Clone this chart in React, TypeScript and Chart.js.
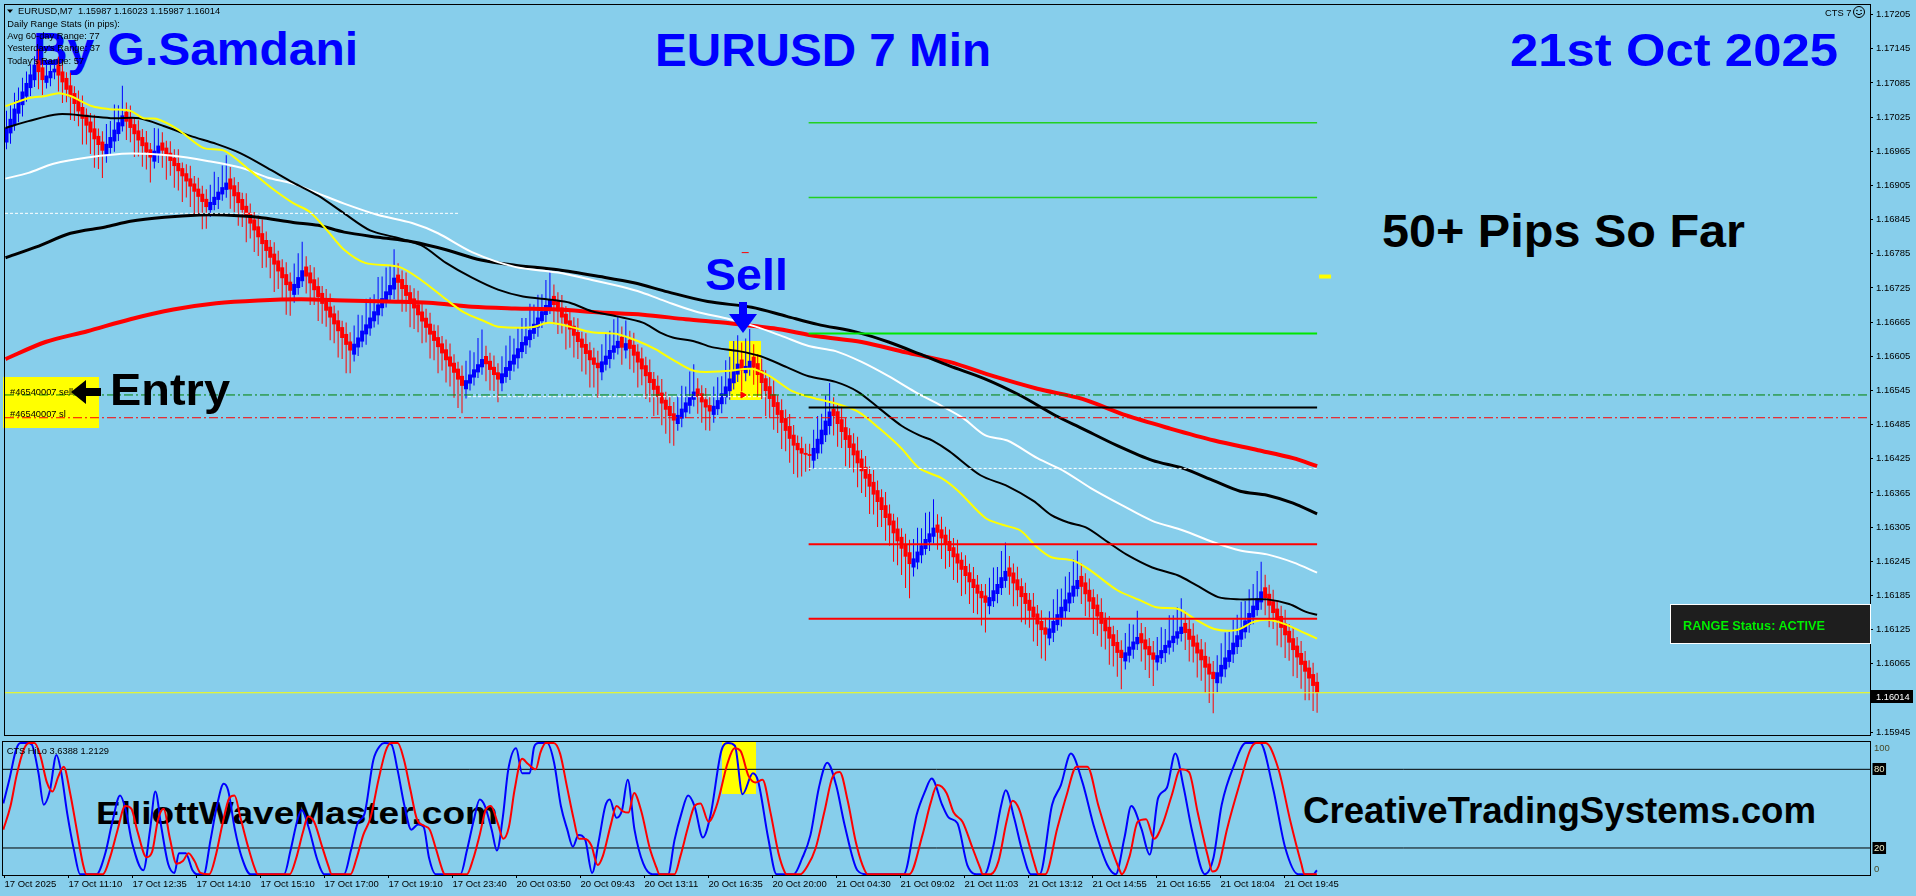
import React, { useEffect, useRef } from "react";
import { Chart, registerables } from "chart.js";

Chart.register(...registerables);

const FONT = "'Liberation Sans', Arial, Helvetica, sans-serif";
const BG = "#87CEEB";
const UP = "#0000FF";
const DOWN = "#FF0000";
const PT = 0.00001;
// bodies of consecutive range bars overlap in the reference drawing
const BODY_OVERLAP = 0.6;

// ---------- axes ----------
const priceTicks = [1.17205, 1.17145, 1.17085, 1.17025, 1.16965, 1.16905, 1.16845, 1.16785, 1.16725, 1.16665, 1.16605,
  1.16545, 1.16485, 1.16425, 1.16365, 1.16305, 1.16245, 1.16185, 1.16125, 1.16065, 1.16005, 1.15945];
const timeTickBars = [0, 16, 32, 48, 64, 80, 96, 112, 128, 144, 160, 176, 192, 208, 224, 240, 256, 272, 288, 304, 320];
const timeLabels = ["17 Oct 2025", "17 Oct 11:10", "17 Oct 12:35", "17 Oct 14:10", "17 Oct 15:10", "17 Oct 17:00",
  "17 Oct 19:10", "17 Oct 23:40", "20 Oct 03:50", "20 Oct 09:43", "20 Oct 13:11", "20 Oct 16:35", "20 Oct 20:00",
  "21 Oct 04:30", "21 Oct 09:02", "21 Oct 11:03", "21 Oct 13:12", "21 Oct 14:55", "21 Oct 16:55", "21 Oct 18:04", "21 Oct 19:45"];
const oscTickValues = [100, 80, 20, 0];
const oscLevels = [80, 20];

// ---------- range bars (close of every bar) ----------
const firstOpen = 1.1699;
const closes = [
  1.17006, 1.17022, 1.17040, 1.17055, 1.17070, 1.17085, 1.17100, 1.17117, 1.17104, 1.17090,
  1.17098, 1.17106, 1.17110, 1.17098, 1.17086, 1.17073, 1.17060, 1.17048, 1.17035, 1.17022,
  1.17010, 1.16998, 1.16986, 1.16976, 1.16966, 1.16978, 1.16990, 1.17003, 1.17016, 1.17028,
  1.17017, 1.17006, 1.16995, 1.16984, 1.16974, 1.16963, 1.16954, 1.16966, 1.16975, 1.16966,
  1.16957, 1.16948, 1.16939, 1.16930, 1.16921, 1.16912, 1.16903, 1.16894, 1.16885, 1.16876,
  1.16867, 1.16876, 1.16885, 1.16894, 1.16902, 1.16910, 1.16898, 1.16886, 1.16874, 1.16862,
  1.16850, 1.16838, 1.16826, 1.16814, 1.16802, 1.16790, 1.16778, 1.16766, 1.16754, 1.16742,
  1.16730, 1.16720, 1.16732, 1.16744, 1.16756, 1.16745, 1.16733, 1.16721, 1.16709, 1.16697,
  1.16685, 1.16673, 1.16661, 1.16649, 1.16637, 1.16625, 1.16615, 1.16627, 1.16638, 1.16650,
  1.16661, 1.16673, 1.16684, 1.16696, 1.16707, 1.16719, 1.16730, 1.16743, 1.16734, 1.16723,
  1.16711, 1.16700, 1.16689, 1.16677, 1.16666, 1.16655, 1.16643, 1.16632, 1.16621, 1.16610,
  1.16598, 1.16587, 1.16576, 1.16564, 1.16553, 1.16563, 1.16573, 1.16582, 1.16591, 1.16600,
  1.16591, 1.16581, 1.16572, 1.16564, 1.16575, 1.16586, 1.16597, 1.16608, 1.16619, 1.16630,
  1.16640, 1.16651, 1.16662, 1.16673, 1.16684, 1.16695, 1.16705, 1.16695, 1.16684, 1.16673,
  1.16662, 1.16652, 1.16641, 1.16630, 1.16620, 1.16609, 1.16598, 1.16590, 1.16584, 1.16596,
  1.16606, 1.16616, 1.16624, 1.16632, 1.16620, 1.16628, 1.16618, 1.16606, 1.16594, 1.16582,
  1.16570, 1.16558, 1.16546, 1.16534, 1.16522, 1.16511, 1.16500, 1.16492, 1.16502, 1.16513,
  1.16524, 1.16534, 1.16543, 1.16534, 1.16524, 1.16515, 1.16508, 1.16518, 1.16528, 1.16540,
  1.16552, 1.16566, 1.16580, 1.16592, 1.16580, 1.16588, 1.16597, 1.16585, 1.16572, 1.16558,
  1.16544, 1.16530, 1.16516, 1.16502, 1.16488, 1.16474, 1.16460, 1.16448, 1.16440, 1.16434,
  1.16432, 1.16430, 1.16444, 1.16460, 1.16476, 1.16492, 1.16508, 1.16500, 1.16486, 1.16472,
  1.16458, 1.16444, 1.16431, 1.16417, 1.16403, 1.16390, 1.16376, 1.16362, 1.16349, 1.16335,
  1.16321, 1.16308, 1.16294, 1.16280, 1.16267, 1.16253, 1.16240, 1.16250, 1.16262, 1.16273,
  1.16284, 1.16294, 1.16304, 1.16295, 1.16285, 1.16274, 1.16263, 1.16252, 1.16241, 1.16230,
  1.16219, 1.16208, 1.16198, 1.16188, 1.16180, 1.16172, 1.16182, 1.16194, 1.16205, 1.16217,
  1.16228, 1.16218, 1.16206, 1.16194, 1.16182, 1.16170, 1.16158, 1.16146, 1.16134, 1.16124,
  1.16116, 1.16127, 1.16140, 1.16152, 1.16165, 1.16178, 1.16190, 1.16202, 1.16212, 1.16200,
  1.16187, 1.16174, 1.16161, 1.16148, 1.16135, 1.16122, 1.16109, 1.16096, 1.16084, 1.16075,
  1.16085, 1.16095, 1.16104, 1.16112, 1.16101, 1.16090, 1.16080, 1.16072, 1.16080, 1.16089,
  1.16098, 1.16106, 1.16114, 1.16122, 1.16130, 1.16119, 1.16107, 1.16095, 1.16083, 1.16071,
  1.16058, 1.16046, 1.16038, 1.16050, 1.16063, 1.16076, 1.16089, 1.16102, 1.16115, 1.16128,
  1.16141, 1.16154, 1.16167, 1.16180, 1.16192, 1.16180, 1.16167, 1.16154, 1.16141, 1.16128,
  1.16115, 1.16102, 1.16089, 1.16076, 1.16063, 1.16051, 1.16039, 1.16026, 1.16014,
];
// wick lengths above / below the body, in points
const wickUp = [
  30, 25, 28, 22, 24, 20, 18, 15, 20, 15, 20, 18, 15,
  14, 18, 10, 22, 12, 16, 20, 11, 15, 24, 13, 18,
  35, 28, 44, 30, 52,
  16, 22, 12, 18, 14, 20, 11,
  40, 30,
  18, 12, 20, 15, 24, 10, 16, 22, 13, 19, 14, 17,
  30, 44, 26, 38, 48,
  20, 14, 18, 11, 22, 16, 13, 19, 24, 15, 12, 20, 17, 14, 21, 16,
  36, 42, 50,
  18, 13, 21, 15, 12, 19, 23, 14, 17, 11, 20, 16,
  32, 40, 27, 45, 35, 30, 48, 38, 42, 34, 50,
  20, 15, 22, 12, 18, 24, 14, 16, 19, 11, 21, 13, 17, 23, 15, 12, 18,
  34, 42, 30, 46, 52,
  18, 14, 20, 16,
  30, 38, 44, 28, 36, 42, 32, 46, 34, 40, 30, 44, 50,
  20, 16, 22, 13, 18, 15, 24, 12, 19, 14, 17, 21,
  30, 40, 34, 46, 44,
  18,
  40,
  16, 21, 13, 19, 15, 22, 12, 18, 24, 14, 17, 20,
  32, 40, 28, 44, 48,
  18, 14, 20, 16,
  34, 40, 30, 46, 38, 52, 50,
  30,
  48, 56,
  22, 16, 20, 14, 18, 24, 12, 19, 15, 21, 17, 13, 20,
  16, 18,
  32, 40, 28, 44, 50,
  20, 14, 22, 16, 12, 18, 24, 15, 19, 13, 21, 17, 14, 23, 16, 12, 20, 15, 18, 22,
  34, 42, 30, 46, 38, 50,
  18, 22, 14, 20, 16, 24, 13, 19, 15, 21, 17, 12, 20,
  34, 40, 30, 46, 50,
  20, 16, 22, 14, 18, 12, 24, 15, 19, 17,
  30, 38, 44, 32, 40, 36, 46, 52,
  22, 16, 20, 14, 18, 24, 12, 19, 15, 21, 17,
  34, 40, 30, 46,
  18, 22, 14, 20,
  32, 40, 28, 44, 36, 42, 50,
  20, 16, 22, 14, 18, 24, 12, 19,
  30, 38, 44, 32, 40, 36, 46, 34, 42, 38, 48, 52,
  22, 16, 20, 14, 18, 24, 12, 19, 15, 21, 17, 13, 20, 16,
];
const wickDown = [
  12, 18, 10, 15, 20, 9, 14, 12, 30, 26, 10, 14, 12,
  28, 36, 22, 40, 30, 26, 45, 33, 38, 50, 42, 48,
  14, 10, 18, 12, 9,
  32, 25, 40, 28, 36, 30, 44,
  12, 16,
  30, 42, 26, 38, 34, 45, 28, 36, 40, 32, 48, 38,
  12, 9, 16, 11, 14,
  34, 28, 40, 30, 45, 26, 38, 33, 42, 29, 36, 48, 31, 40, 52, 44,
  14, 12, 10,
  30, 38, 26, 42, 35, 28, 40, 33, 46, 37, 50, 40,
  12, 15, 10, 18, 13, 11, 16, 14, 9, 12, 17,
  32, 40, 28, 44, 36, 30, 38, 26, 42, 34, 46, 30, 39, 35, 44, 50, 48,
  16, 12, 14, 10, 13,
  30, 36, 28, 40,
  14, 10, 16, 12, 18, 11, 15, 13, 9, 16, 12, 14, 10,
  34, 40, 28, 45, 32, 38, 30, 42, 36, 48, 40, 52,
  14, 10, 16, 12, 11,
  30,
  14,
  36, 30, 44, 28, 40, 34, 46, 32, 38, 42, 48, 44,
  12, 15, 10, 14, 12,
  30, 36, 40, 34,
  14, 10, 16, 12, 15, 11, 13,
  36,
  14, 12,
  30, 38, 28, 44, 34, 40, 32, 46, 36, 42, 50, 48, 40,
  30, 26,
  14, 10, 16, 12, 15,
  34, 40, 28, 46, 36, 30, 42, 38, 32, 48, 35, 44, 30, 40, 36, 50, 42, 46, 55, 60,
  16, 12, 14, 10, 15, 12,
  30, 36, 42, 28, 40, 34, 46, 32, 38, 44, 36, 48, 52,
  14, 10, 16, 12, 12,
  32, 40, 28, 44, 36, 30, 42, 38, 50, 46,
  12, 16, 10, 14, 12, 15, 11, 13,
  30, 38, 28, 44, 34, 40, 32, 46, 36, 42, 55,
  14, 12, 16, 10,
  32, 36, 40, 46,
  14, 10, 16, 12, 15, 11, 13,
  30, 38, 28, 42, 36, 44, 50, 60,
  16, 12, 14, 10, 15, 12, 13, 11, 14, 12, 10, 13,
  30, 38, 28, 44, 34, 40, 32, 46, 36, 42, 50, 38, 44, 35,
];

// ---------- moving averages [bar, price] ----------
const maYellow = [[-0.25, 1.17044], [5.5, 1.17058], [9.75, 1.17062], [13, 1.17067], [16, 1.17062], [21.5, 1.17044], [25.75, 1.17039], [31, 1.17036], [34.25, 1.17023], [37.5, 1.17022], [42.75, 1.17004], [49.25, 1.16971], [54.5, 1.16966], [61, 1.16931], [66.25, 1.16901], [71.75, 1.16874], [76, 1.16858], [80.25, 1.16826], [84.5, 1.16792], [89.75, 1.16769], [98.25, 1.16762], [103.75, 1.16739], [110, 1.16705], [114.5, 1.16682], [119.75, 1.16666], [123, 1.16657], [131.5, 1.16656], [135.75, 1.16664], [141, 1.16657], [146.5, 1.16647], [152.75, 1.16644], [158.25, 1.16631], [162.5, 1.16617], [166.5, 1.16600], [172.25, 1.16579], [180, 1.16579], [186.5, 1.16583], [191, 1.16570], [196.5, 1.16544], [200.75, 1.16534], [207.5, 1.16522], [213, 1.16508], [218.5, 1.16478], [224, 1.16443], [228.5, 1.16408], [234, 1.16391], [238.25, 1.16368], [245, 1.16321], [249.25, 1.16309], [253.75, 1.16299], [258, 1.16269], [261.5, 1.16252], [267, 1.16246], [271.25, 1.16229], [278, 1.16194], [283.5, 1.16177], [287.75, 1.16164], [293.25, 1.16161], [297.75, 1.16142], [302.25, 1.16126], [307.75, 1.16124], [312, 1.16138], [315.5, 1.16142], [319.75, 1.16135], [324.25, 1.16121], [328, 1.16109]];
const maWhite = [[-0.25, 1.16917], [5.5, 1.16927], [11.75, 1.16943], [20.25, 1.16954], [31, 1.16961], [41.75, 1.16957], [50.25, 1.16948], [58.75, 1.16936], [65.25, 1.16919], [71.75, 1.16908], [78, 1.16891], [84.5, 1.16873], [93, 1.16853], [101.5, 1.16839], [108, 1.16821], [116.5, 1.16788], [127.25, 1.16762], [138, 1.16752], [146.5, 1.16739], [154, 1.16727], [159, 1.16717], [165.5, 1.16700], [172.25, 1.16684], [181, 1.16670], [187.5, 1.16657], [194.25, 1.16640], [200.75, 1.16623], [207.5, 1.16614], [214, 1.16595], [220.75, 1.16570], [227.25, 1.16543], [234, 1.16518], [239.5, 1.16496], [245, 1.16466], [250.5, 1.16457], [258, 1.16426], [264.75, 1.16403], [271.25, 1.16374], [279, 1.16344], [286.75, 1.16316], [294.5, 1.16299], [302.25, 1.16278], [308.75, 1.16264], [315.5, 1.16257], [322, 1.16243], [328, 1.16225]];
const maBlackThin = [[-0.25, 1.17006], [5.5, 1.17018], [13, 1.17030], [20.25, 1.17027], [26.75, 1.17023], [33.25, 1.17023], [39.5, 1.17009], [46, 1.16992], [52.5, 1.16978], [58.75, 1.16961], [65.25, 1.16936], [71.75, 1.16910], [78, 1.16887], [84.5, 1.16856], [91, 1.16826], [97.25, 1.16814], [103.75, 1.16800], [110, 1.16769], [116.5, 1.16743], [123, 1.16722], [129.25, 1.16710], [136.75, 1.16704], [141, 1.16699], [146.5, 1.16684], [152.75, 1.16675], [159.25, 1.16664], [163.5, 1.16647], [166.75, 1.16638], [172.25, 1.16631], [176.5, 1.16621], [183.25, 1.16614], [188.75, 1.16605], [195.25, 1.16586], [200.75, 1.16570], [207.5, 1.16560], [213, 1.16543], [218.5, 1.16513], [224, 1.16483], [228.5, 1.16466], [231.75, 1.16457], [236, 1.16438], [243.75, 1.16396], [250.5, 1.16377], [257, 1.16351], [261.5, 1.16326], [265.75, 1.16313], [270.25, 1.16304], [275.75, 1.16278], [280.25, 1.16257], [286.75, 1.16234], [293.25, 1.16220], [297.75, 1.16203], [303.25, 1.16182], [308.75, 1.16178], [315.5, 1.16178], [321, 1.16170], [325.25, 1.16156], [328, 1.16151]];
const maBlackThick = [[-0.25, 1.16778], [7.5, 1.16797], [16, 1.16821], [24.75, 1.16832], [31, 1.16842], [39.5, 1.16849], [48.25, 1.16853], [54.5, 1.16853], [63, 1.16849], [71.75, 1.16840], [78, 1.16835], [84.5, 1.16823], [93, 1.16814], [101.5, 1.16806], [110, 1.16792], [118.75, 1.16774], [127.25, 1.16765], [138, 1.16757], [148.5, 1.16745], [157, 1.16734], [165.5, 1.16718], [175.5, 1.16701], [186.5, 1.16691], [195.25, 1.16675], [203, 1.16661], [213, 1.16647], [220.75, 1.16630], [228.5, 1.16609], [236, 1.16588], [245, 1.16565], [253.75, 1.16536], [262.5, 1.16501], [269.25, 1.16478], [278, 1.16448], [286.75, 1.16422], [294.5, 1.16408], [302.25, 1.16386], [308.75, 1.16368], [315.5, 1.16361], [322, 1.16347], [328, 1.16328]];
const maRed = [[-0.25, 1.16600], [9.75, 1.16630], [20.25, 1.16649], [31, 1.16670], [41.75, 1.16687], [52.5, 1.16698], [63, 1.16703], [73.75, 1.16705], [84.5, 1.16703], [95.25, 1.16701], [105.75, 1.16699], [116.5, 1.16692], [127.25, 1.16689], [138, 1.16687], [148.5, 1.16682], [159.25, 1.16678], [170, 1.16670], [181, 1.16663], [192, 1.16654], [203, 1.16640], [214, 1.16630], [225, 1.16612], [236, 1.16595], [247, 1.16570], [258, 1.16548], [269.25, 1.16530], [280.25, 1.16501], [291.25, 1.16478], [302.25, 1.16457], [313.25, 1.16440], [322, 1.16426], [328, 1.16412]];

// ---------- horizontal objects ----------
const levelBars = [200.75, 328];
const levelGreen = [1.17015, 1.16884, 1.16645];
const levelBlack = [1.16515];
const levelRed = [1.16275, 1.16144];
const entryPrice = 1.16537;
const slPrice = 1.16497;
const dottedLevels = [[1.16856, -0.375, 113], [1.16534, 115.5, 190], [1.16408, 200.75, 328]];
const currentPrice = 1.16014;
const sellZoneBars = [180.75, 188.75];
const sellZonePrices = [1.16527, 1.16631];
const sellMarker = [184.25, 1.16537];
const sellTick = [[184, 1.16787], [185.75, 1.16787]];
const rightMarker = [[328.5, 1.16745], [331.5, 1.16745]];

// ---------- oscillator [bar, value] ----------
const oscMain = [[-0.3, 54], [1.2, 72], [2.9, 95], [4, 100], [5.7, 100], [6.8, 99], [8.5, 77], [9.8, 53], [11.3, 63], [13, 91], [14.1, 79], [15.7, 46], [17.4, 18], [18.9, 0], [23, 0], [25.2, 16], [26.9, 39], [28.9, 60], [30.3, 49], [31.9, 24], [34.7, 3], [36.4, 34], [37.7, 63], [39.2, 36], [40.9, 8], [42.5, 1], [43.6, 16], [45.3, 16], [47, 3], [48.1, 0], [49.8, 0], [51.5, 26], [53.1, 52], [54.8, 69], [55.9, 64], [57.6, 34], [59.3, 13], [61.5, 0], [69.9, 0], [71.5, 18], [73.2, 41], [74.3, 49], [76, 36], [78.2, 11], [79.9, 0], [84.9, 0], [86.6, 18], [88.3, 39], [90, 46], [92.2, 87], [93.9, 98], [95, 100], [96.7, 99], [98.3, 79], [100, 52], [101.7, 34], [103.4, 38], [104.8, 36], [106.1, 13], [107.8, 0], [114, 0], [115.6, 18], [117.3, 41], [118.8, 57], [120.1, 52], [121.8, 34], [123.1, 18], [124.6, 44], [125.9, 79], [127.9, 96], [129.4, 77], [131.3, 77], [132.4, 97], [133.5, 100], [135.7, 100], [137.4, 85], [139.1, 52], [140.7, 34], [142.1, 21], [143.5, 30], [145.2, 26], [146.9, 1], [148.6, 26], [150.2, 52], [151.3, 57], [153, 43], [154.4, 49], [155.8, 72], [157.5, 34], [159.7, 8], [162, 0], [165.9, 0], [167.5, 26], [169.2, 46], [170.9, 60], [172.5, 52], [174.6, 28], [176.5, 45], [179.2, 94], [180.9, 100], [182.6, 98], [184.5, 61], [187.1, 77], [188.4, 71], [190.9, 28], [193, 0], [197.3, 0], [199.4, 12], [201.5, 30], [203.6, 66], [205.7, 85], [207.9, 68], [210, 38], [213.2, 3], [215.3, 0], [224.8, 0], [228, 45], [230.1, 63], [231.8, 73], [234.4, 53], [236.1, 43], [238.2, 39], [240.7, 7], [242.9, 0], [245, 0], [247.1, 20], [249.2, 53], [250.3, 64], [252.4, 43], [254.5, 17], [256.6, 0], [258.8, 0], [261.9, 53], [264.1, 68], [266.6, 92], [269.4, 71], [272.5, 35], [275.7, 7], [277.8, 0], [280, 28], [281.7, 52], [284.2, 35], [286.3, 15], [288.4, 58], [290.6, 66], [292.7, 92], [294.8, 66], [296.9, 33], [300.1, 0], [302.2, 12], [304.3, 53], [307.5, 84], [310.3, 100], [313.9, 100], [317.1, 66], [320.2, 20], [323.4, 0], [327.2, 0], [328.1, 3]];
const oscSignal = [[-0.3, 34], [1.5, 52], [3, 75], [4.8, 95], [6.2, 100], [7.5, 100], [9, 90], [10.6, 70], [12, 63], [13.4, 74], [14.8, 82], [16.4, 62], [18, 35], [19.6, 8], [20.5, 0], [24.6, 0], [26.5, 14], [28.2, 33], [30.2, 52], [31.7, 50], [33.3, 32], [35.5, 13], [36.9, 17], [38.4, 42], [39.8, 50], [41.3, 28], [43, 8], [44.6, 10], [46, 16], [47.5, 10], [49, 1], [51.2, 0], [52.8, 14], [54.4, 37], [56.2, 58], [57.5, 60], [59, 43], [60.8, 22], [62.5, 5], [63.3, 0], [71.3, 0], [72.9, 12], [74.6, 32], [75.9, 44], [77.4, 40], [79.4, 21], [81, 6], [81.8, 0], [86.5, 0], [88, 12], [89.7, 30], [91.5, 43], [93.5, 72], [95.3, 94], [96.6, 100], [98.3, 100], [99.8, 88], [101.5, 64], [103.1, 42], [104.9, 37], [106.3, 34], [107.8, 20], [109.5, 3], [110, 0], [115.6, 0], [117.1, 11], [118.8, 30], [120.3, 49], [121.6, 52], [123.3, 39], [124.7, 27], [126.1, 36], [127.5, 64], [129.4, 88], [130.9, 84], [132.8, 80], [134, 93], [135.3, 100], [137.3, 100], [138.9, 92], [140.6, 67], [142.3, 42], [143.6, 27], [145, 27], [146.7, 22], [148.3, 7], [149.6, 14], [151.6, 38], [153, 52], [154.6, 48], [156, 47], [157.4, 62], [159.2, 48], [161.3, 20], [163, 5], [163.7, 0], [167.5, 0], [169, 14], [170.8, 35], [172.5, 52], [174, 54], [176, 40], [178, 52], [180.8, 85], [182.5, 96], [184, 94], [186, 75], [187.8, 70], [189.5, 72], [191.5, 47], [193.5, 16], [195, 2], [195.5, 0], [199, 0], [200.7, 6], [202.8, 20], [205, 48], [207, 74], [208.8, 78], [210.8, 56], [212.8, 25], [214.5, 7], [215.8, 0], [226.2, 0], [229.5, 30], [231.5, 54], [233.2, 68], [235.5, 62], [237.3, 47], [239.5, 40], [242, 20], [244, 4], [244.5, 0], [246.5, 0], [248.5, 10], [250.5, 40], [252, 56], [253.6, 50], [255.5, 30], [257.5, 8], [258.5, 0], [260.2, 0], [263.2, 35], [265.5, 60], [268, 82], [270.7, 82], [273.5, 52], [276.6, 21], [278.8, 3], [279.3, 0], [281.3, 14], [283.3, 40], [285.4, 42], [287.4, 27], [289.5, 38], [291.8, 60], [294, 80], [296.1, 78], [298.3, 47], [300.8, 14], [302, 2], [303.5, 6], [305.6, 34], [308.7, 68], [311.6, 96], [313, 100], [315.3, 100], [318.5, 80], [321.5, 40], [324.2, 8], [325, 0], [328.1, 0]];
const oscZoneBars = [179.25, 187.75];
const oscZoneValues = [61, 101];

// ---------- scale ranges ----------
const X_MIN = -0.375;
const X_MAX = 466.375;
const Y_MIN = 1.159398;
const Y_MAX = 1.172219;
const OSC_MIN = -0.6;
const OSC_MAX = 100.84;

const pts = (arr: number[][]) => arr.map(([x, y]) => ({ x, y }));

const lineDs = (data: any[], color: string, width: number, order: number, extra: any = {}) => ({
  type: "line",
  data,
  borderColor: color,
  backgroundColor: color,
  borderWidth: width,
  pointRadius: 0,
  tension: 0.3,
  fill: false,
  order,
  ...extra,
});

const hLine = (x0: number, x1: number, y: number, color: string, width: number, dash: number[], order: number) =>
  lineDs([{ x: x0, y }, { x: x1, y }], color, width, order, { borderDash: dash, tension: 0 });

const framePlugin = {
  id: "frame",
  afterDraw(chart: any) {
    const { ctx, chartArea: a } = chart;
    ctx.save();
    ctx.strokeStyle = "#000";
    ctx.lineWidth = 1;
    ctx.strokeRect(a.left - 0.5, a.top - 0.5, a.right - a.left + 1, a.bottom - a.top + 1);
    ctx.restore();
  },
};

const zonePlugin = {
  id: "zone",
  beforeDatasetsDraw(chart: any, _args: any, opts: any) {
    if (!opts || !opts.bars) return;
    const { ctx, scales, chartArea: a } = chart;
    const x0 = scales.x.getPixelForValue(opts.bars[0]);
    const x1 = scales.x.getPixelForValue(opts.bars[1]);
    const y0 = Math.max(scales.y.getPixelForValue(opts.values[1]), a.top);
    const y1 = Math.min(scales.y.getPixelForValue(opts.values[0]), a.bottom);
    ctx.save();
    ctx.fillStyle = opts.color;
    ctx.fillRect(Math.round(x0), Math.round(y0), Math.round(x1 - x0), Math.round(y1 - y0));
    ctx.restore();
  },
};

const oscAxisPlugin = {
  id: "oscAxis",
  afterDraw(chart: any) {
    const { ctx, chartArea: a, scales } = chart;
    ctx.save();
    ctx.font = `9.5px ${FONT}`;
    ctx.textBaseline = "middle";
    ctx.textAlign = "left";
    oscTickValues.forEach((v) => {
      let py = scales.y.getPixelForValue(v);
      py = Math.min(Math.max(py, a.top + 6), a.bottom - 6);
      const label = String(v);
      const x = a.right + 4;
      if (oscLevels.includes(v)) {
        const w = ctx.measureText(label).width;
        ctx.fillStyle = "#000";
        ctx.fillRect(x - 1.5, Math.round(py) - 6, w + 3, 12);
        ctx.fillStyle = "#EDEDC8";
      } else {
        ctx.fillStyle = "#4a4a28";
      }
      ctx.fillText(label, x, py + 0.5);
    });
    ctx.restore();
  },
};

function mainConfig(): any {
  const prev = closes.map((c, i) => (i === 0 ? firstOpen : closes[i - 1]));
  const colors = closes.map((c, i) => (c >= prev[i] ? UP : DOWN));
  const bodies = closes.map((c, i) => ({ x: i, y: [prev[i] - (c - prev[i]) * BODY_OVERLAP, c] }));
  const wicks = closes.map((c, i) => {
    const lo = Math.min(bodies[i].y[0], c);
    const hi = Math.max(bodies[i].y[0], c);
    return { x: i, y: [lo - (wickDown[i] || 0) * PT, hi + (wickUp[i] || 0) * PT] };
  });
  const DASHDOT = [9, 3, 2, 3];
  const datasets: any[] = [
    { type: "bar", data: wicks, backgroundColor: colors, barThickness: 1, grouped: false, inflateAmount: 0, borderWidth: 0, order: 60 },
    { type: "bar", data: bodies, backgroundColor: colors, barThickness: 4, grouped: false, inflateAmount: 0, borderWidth: 0, minBarLength: 1, order: 55 },
    lineDs(pts(maRed), "#FF0000", 4, 40),
    lineDs(pts(maBlackThick), "#000000", 3, 39),
    lineDs(pts(maWhite), "#FFFFFF", 2, 38),
    lineDs(pts(maBlackThin), "#000000", 2, 37),
    lineDs(pts(maYellow), "#FFFF00", 2, 36),
    ...dottedLevels.map(([p, a, b]) => hLine(a, b, p, "#FFFFFF", 1, [3, 2], 30)),
    hLine(X_MIN, X_MAX, entryPrice, "#008000", 1, DASHDOT, 25),
    hLine(X_MIN, X_MAX, slPrice, "#FF0000", 1, DASHDOT, 25),
    ...levelGreen.map((p, k) => hLine(levelBars[0], levelBars[1], p, k < 2 ? "#22D022" : "#00E600", k < 2 ? 1.5 : 2, [], 20)),
    ...levelBlack.map((p) => hLine(levelBars[0], levelBars[1], p, "#000000", 2, [], 20)),
    ...levelRed.map((p) => hLine(levelBars[0], levelBars[1], p, "#FF0000", 2, [], 20)),
    hLine(X_MIN, X_MAX, currentPrice, "#FFFF00", 1, [], 15),
    lineDs(pts(sellTick), "#FF0000", 1, 10, { tension: 0 }),
    lineDs(pts(rightMarker), "#FFFF00", 4, 10, { tension: 0 }),
    {
      type: "line",
      data: [{ x: sellMarker[0], y: sellMarker[1] }],
      showLine: false,
      pointStyle: "triangle",
      rotation: 90,
      pointRadius: 3.5,
      pointBackgroundColor: "#FF0000",
      pointBorderColor: "#FF0000",
      order: 9,
    },
  ];
  return {
    type: "line",
    data: { datasets },
    options: {
      animation: false,
      responsive: false,
      maintainAspectRatio: false,
      devicePixelRatio: 1,
      events: [],
      layout: { padding: { left: 3, top: 3, right: 0, bottom: 1 } },
      plugins: {
        legend: { display: false },
        tooltip: { enabled: false },
        zone: { bars: sellZoneBars, values: sellZonePrices, color: "#FFFF00" },
      },
      scales: {
        x: { type: "linear", display: false, min: X_MIN, max: X_MAX, offset: false, bounds: "data" },
        y: {
          type: "linear",
          position: "right",
          min: Y_MIN,
          max: Y_MAX,
          bounds: "data",
          afterBuildTicks: (s: any) => {
            s.ticks = priceTicks.map((value) => ({ value }));
          },
          afterFit: (s: any) => {
            s.width = 46;
            s.paddingTop = 0;
            s.paddingBottom = 0;
          },
          grid: { drawOnChartArea: false, drawTicks: true, tickLength: 3, color: "#000", lineWidth: 1 },
          border: { display: false },
          ticks: {
            autoSkip: false,
            color: "#000",
            padding: 3,
            font: { family: FONT, size: 9.5 },
            callback: (v: any) => Number(v).toFixed(5),
          },
        },
      },
    },
    plugins: [zonePlugin, framePlugin],
  };
}

function oscConfig(): any {
  const datasets: any[] = [
    ...oscLevels.map((v) => hLine(X_MIN, X_MAX, v, "#000000", 1, [], 30)),
    lineDs(pts(oscMain), "#0000FF", 2, 20, { tension: 0, cubicInterpolationMode: "monotone" }),
    lineDs(pts(oscSignal), "#FF0000", 2, 10, { tension: 0, cubicInterpolationMode: "monotone" }),
  ];
  return {
    type: "line",
    data: { datasets },
    options: {
      animation: false,
      responsive: false,
      maintainAspectRatio: false,
      devicePixelRatio: 1,
      events: [],
      layout: { padding: { left: 3, top: 2, right: 0, bottom: 0 } },
      plugins: {
        legend: { display: false },
        tooltip: { enabled: false },
        zone: { bars: oscZoneBars, values: oscZoneValues, color: "#FFFF00" },
      },
      scales: {
        x: {
          type: "linear",
          position: "bottom",
          min: X_MIN,
          max: X_MAX,
          offset: false,
          bounds: "data",
          afterBuildTicks: (s: any) => {
            s.ticks = timeTickBars.map((value) => ({ value }));
          },
          afterFit: (s: any) => {
            s.height = 21;
            s.paddingLeft = 0;
            s.paddingRight = 0;
          },
          grid: { drawOnChartArea: false, drawTicks: true, tickLength: 3, color: "#000", lineWidth: 1 },
          border: { display: false },
          ticks: {
            autoSkip: false,
            maxRotation: 0,
            minRotation: 0,
            align: "start",
            padding: 1,
            color: "#000",
            font: { family: FONT, size: 9.5 },
            callback: (_v: any, i: number) => timeLabels[i],
          },
        },
        y: {
          type: "linear",
          position: "right",
          min: OSC_MIN,
          max: OSC_MAX,
          bounds: "data",
          afterFit: (s: any) => {
            s.width = 46;
            s.paddingTop = 0;
            s.paddingBottom = 0;
          },
          grid: { drawOnChartArea: false, drawTicks: false },
          border: { display: false },
          ticks: { display: false },
        },
      },
    },
    plugins: [zonePlugin, framePlugin, oscAxisPlugin],
  };
}

const T = ({ x, y, size, w, color = "#000", bold = false, children }: any) => (
  <text
    x={x}
    y={y}
    fontFamily={FONT}
    fontSize={size}
    fontWeight={bold ? "bold" : "normal"}
    fill={color}
    textLength={w}
    lengthAdjust={w ? "spacingAndGlyphs" : undefined}
    style={{ whiteSpace: "pre" }}
  >
    {children}
  </text>
);

export default function App() {
  const mainRef = useRef<HTMLCanvasElement>(null);
  const oscRef = useRef<HTMLCanvasElement>(null);

  useEffect(() => {
    const main = new Chart(mainRef.current as HTMLCanvasElement, mainConfig());
    const osc = new Chart(oscRef.current as HTMLCanvasElement, oscConfig());
    return () => {
      main.destroy();
      osc.destroy();
    };
  }, []);

  return (
    <div style={{ position: "fixed", left: 0, top: 0, width: 1916, height: 896, background: BG, overflow: "hidden" }}>
      {/* background layer (behind the price chart) */}
      <svg width={1916} height={896} style={{ position: "absolute", left: 0, top: 0, zIndex: 0 }}>
        <rect x={3} y={377} width={96} height={51} fill="#FFFF00" />
        <T x={33} y={65} size={46} w={325} bold color="#0000FF">By G.Samdani</T>
        <T x={655} y={66} size={46} w={336} bold color="#0000FF">EURUSD 7 Min</T>
        <T x={1510} y={66} size={46} w={328} bold color="#0000FF">21st Oct 2025</T>
        <T x={1382} y={247} size={46} w={363} bold>50+ Pips So Far</T>
        <T x={96} y={824} size={32} w={402} bold>ElliottWaveMaster.com</T>
        <T x={1303} y={823} size={36} w={513} bold>CreativeTradingSystems.com</T>
      </svg>

      <canvas ref={mainRef} width={1916} height={740} style={{ position: "absolute", left: 0, top: 0, zIndex: 1 }} />
      <canvas ref={oscRef} width={1916} height={156} style={{ position: "absolute", left: 0, top: 740, zIndex: 1 }} />

      {/* foreground layer */}
      <svg width={1916} height={896} style={{ position: "absolute", left: 0, top: 0, zIndex: 2 }}>
        <polygon points="7,9.5 13,9.5 10,13" fill="#000" />
        <T x={18} y={14.3} size={9.3}>{"EURUSD,M7  1.15987 1.16023 1.15987 1.16014"}</T>
        <T x={7.3} y={27.3} size={9.3}>Daily Range Stats (in pips):</T>
        <T x={7.3} y={39.3} size={9.3}>Avg 60-day Range: 77</T>
        <T x={7.3} y={51.3} size={9.3}>Yesterday's Range: 37</T>
        <T x={7.3} y={63.5} size={9.3}>Today's Range: 57</T>

        <T x={1825} y={16} size={9.3}>CTS 7</T>
        <circle cx={1859} cy={12} r={5.5} fill="none" stroke="#000" strokeWidth={1} />
        <circle cx={1857} cy={10.5} r={0.8} fill="#000" />
        <circle cx={1861} cy={10.5} r={0.8} fill="#000" />
        <path d="M1856 13.3 Q1859 16.2 1862 13.3" fill="none" stroke="#000" strokeWidth={1} />

        <T x={705} y={290} size={45} w={83} bold color="#0000FF">Sell</T>
        <polygon points="739,302 747,302 747,314 757,314 743,333 729,314 739,314" fill="#0000FF" />

        <T x={10} y={394.5} size={9.3}>#46540007 sell</T>
        <T x={10} y={416.7} size={9.3}>#46540007 sl</T>
        <polygon points="71,392 86,380 86,388 101,388 101,396 86,396 86,404" fill="#000" />
        <T x={110} y={405} size={45} w={120} bold>Entry</T>

        <rect x={1670.5} y={604.5} width={200} height={39} fill="#1E1E1E" stroke="#FFFFFF" strokeWidth={1} />
        <T x={1683} y={630} size={12.5} w={142} bold color="#00EE00">RANGE Status: ACTIVE</T>

        <rect x={1871} y={690} width={42} height={13} fill="#000" />
        <T x={1876} y={700} size={9.3} color="#FFFFFF">1.16014</T>

        <T x={6.7} y={754} size={9.3}>CTS HiLo 3.6388 1.2129</T>
      </svg>
    </div>
  );
}
